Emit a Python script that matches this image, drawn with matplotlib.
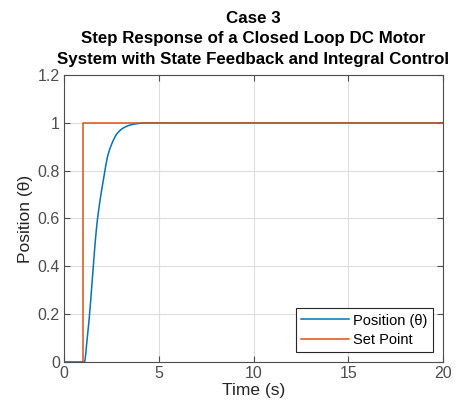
import matplotlib
matplotlib.use("Agg")
import matplotlib.pyplot as plt
import numpy as np

# step response
resp_t = [0, 1.0, 1.08, 1.2, 1.35, 1.54, 1.77, 2.16, 2.3, 2.46, 2.62, 2.8, 3.1, 3.5, 4.0, 4.5, 5.0, 20]
resp_y = [0, 0, 0.0, 0.08, 0.2, 0.4, 0.6, 0.8, 0.86, 0.9, 0.93, 0.955, 0.977, 0.991, 0.998, 1.0, 1.0, 1.0]

# set point
sp_t = [0, 1, 1, 20]
sp_y = [0, 0, 1, 1]

xticks = [0, 5, 10, 15, 20]
yticks = [0, 0.2, 0.4, 0.6, 0.8, 1, 1.2]
ytick_labels = ['0', '0.2', '0.4', '0.6', '0.8', '1', '1.2']

plt.rcParams['font.family'] = ['Liberation Sans', 'DejaVu Sans']

fig = plt.figure(figsize=(4.72, 4.15), dpi=100)
ax = fig.add_axes([0.1356, 0.1277, 0.803, 0.6916])

# smooth the read points a little with a monotone cubic between them
tt = np.array(resp_t, dtype=float)
yy = np.array(resp_y, dtype=float)
d = np.diff(yy) / np.diff(tt)
m = np.zeros_like(yy)
for i in range(1, len(yy) - 1):
    if d[i - 1] * d[i] > 0:
        m[i] = 2 / (1 / d[i - 1] + 1 / d[i])
ts, ys = [], []
for i in range(len(tt) - 1):
    h = tt[i + 1] - tt[i]
    s = np.linspace(0, 1, 12)
    h00 = 2 * s**3 - 3 * s**2 + 1
    h10 = s**3 - 2 * s**2 + s
    h01 = -2 * s**3 + 3 * s**2
    h11 = s**3 - s**2
    ts.extend(tt[i] + s * h)
    ys.extend(h00 * yy[i] + h10 * h * m[i] + h01 * yy[i + 1] + h11 * h * m[i + 1])

ax.plot(ts, ys, color='#0072BD', lw=1.1, label='Position (\u03b8)')
ax.plot(sp_t, sp_y, color='#D95319', lw=1.1, label='Set Point')

ax.set_xlim(0, 20)
ax.set_ylim(0, 1.2)
ax.set_xticks(xticks)
ax.set_yticks(yticks)
ax.set_yticklabels(ytick_labels)
ax.grid(True, color='#dedede', lw=0.8)
ax.set_axisbelow(True)
ax.tick_params(direction='in', length=4, top=True, right=True, labelsize=11.5,
               colors='#4d4d4d', pad=3)
for s in ax.spines.values():
    s.set_color('#4d4d4d')
    s.set_linewidth(0.8)

ax.set_xlabel('Time (s)', fontsize=12.5, color='#262626', labelpad=1)
ax.set_ylabel('Position (\u03b8)', fontsize=12.5, color='#262626', labelpad=3)
ax.set_title('Case 3\nStep Response of a Closed Loop DC Motor\nSystem with State Feedback and Integral Control',
             fontsize=12.2, fontweight='bold', color='black', pad=8, linespacing=1.45)

leg = ax.legend(loc='lower right', fontsize=10.5, frameon=True, fancybox=False,
                edgecolor='#262626', framealpha=1, handlelength=3.3,
                borderpad=0.35, labelspacing=0.35, handletextpad=0.3,
                borderaxespad=0.7)
leg.get_frame().set_linewidth(0.8)

fig.savefig('out.png', dpi=100)
